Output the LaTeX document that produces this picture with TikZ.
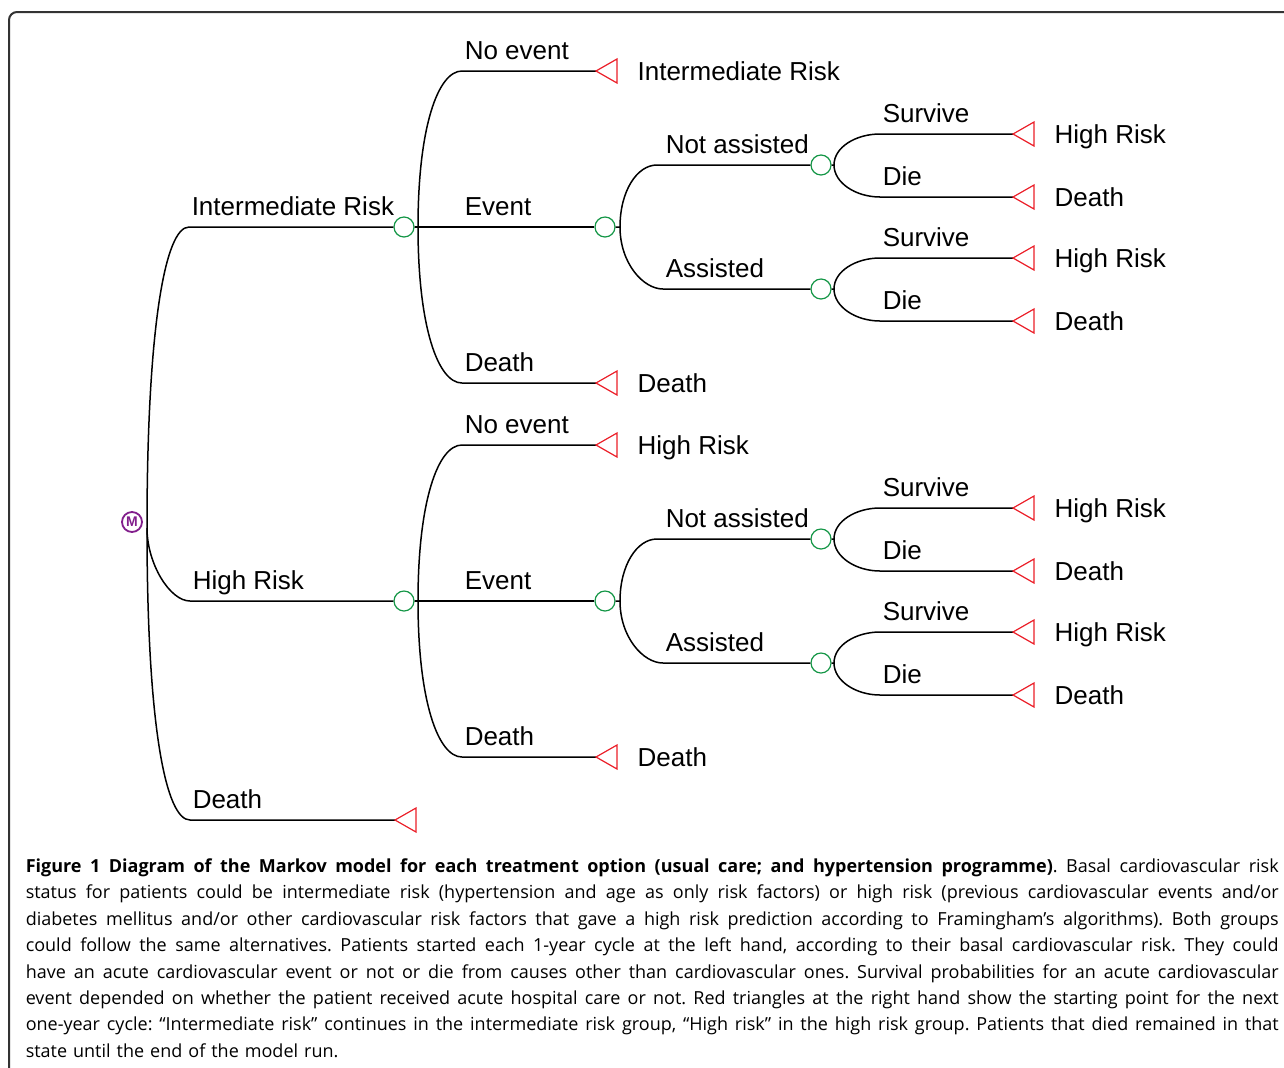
\documentclass[tikz,border=0pt]{standalone}
\usepackage{fontspec}
\setmainfont{Open Sans}
\newfontfamily\treefont{Liberation Sans}
\usepackage{tikz}
\definecolor{chgreen}{RGB}{20,150,70}
\definecolor{trired}{RGB}{235,30,40}
\definecolor{mkpurple}{RGB}{130,30,140}
\newcommand\capline[1]{\leavevmode\hbox to 626.5pt{\spaceskip=0.26em plus 0.5em minus 0.05em #1}\\}
\frenchspacing

\begin{document}
\begin{tikzpicture}[x=0.5pt,y=0.5pt,line width=0.75pt,
  chance/.style={circle,draw=chgreen,line width=0.6pt,minimum size=10pt,inner sep=0pt},
  markov/.style={circle,draw=mkpurple,text=mkpurple,line width=0.9pt,minimum size=10pt,inner sep=0pt,font=\treefont\fontsize{7}{7}\selectfont\bfseries},
  tri/.style={draw=trired,line width=0.6pt},
  lbl/.style={anchor=base west,inner sep=0pt,font=\treefont\fontsize{13}{15}\selectfont},
  brl/.style={lbl,pos=0,xshift=1pt,yshift=6pt},
  trl/.style={lbl,xshift=10pt,yshift=-4.5pt},
  up/.style 2 args={out=90,in=180,out distance=#1,in distance=#2},
  dn/.style 2 args={out=-90,in=180,out distance=#1,in distance=#2}]
\useasboundingbox (0,0) rectangle (1284,-1067);
\draw[line width=1pt,black!80,rounded corners=4pt] (9,-12) rectangle (1320,-1100);

\foreach \dy/\nm/\ne in {0/a/Intermediate Risk,-374/b/High Risk}{
\begin{scope}[shift={(0,\dy)}]
\node[chance] (\nm) at (404,-227) {};
\coordinate (\nm-j) at (418,-227);
\coordinate (\nm-ne0) at (462,-71);
\coordinate (\nm-ne) at (596,-71);
\coordinate (\nm-d0) at (462,-383);
\coordinate (\nm-d) at (596,-383);
\node[chance] (\nm-ev) at (605,-227) {};
\coordinate (\nm-evj) at (620,-227);
\node[chance] (\nm-na) at (821,-165) {};
\node[chance] (\nm-as) at (821,-289) {};
\coordinate (\nm-na0) at (657,-165);
\coordinate (\nm-as0) at (663,-289);
\draw (\nm.east) -- (\nm-j) to[up={50pt}{12pt}] (\nm-ne0) -- node[brl]{No event} (\nm-ne);
\draw (\nm-j) to[dn={50pt}{12pt}] (\nm-d0) -- node[brl]{Death} (\nm-d);
\draw (\nm.east) -- (\nm-ev);
\node[lbl] (\nm-evl) at (464,-215) {Event};
\draw[tri] (\nm-ne) -- ++(21,12) -- ++(0,-12) node[trl] (\nm-nel) {\ne} -- ++(0,-12) -- cycle;
\draw[tri] (\nm-d) -- ++(21,12) -- ++(0,-12) node[trl] (\nm-dl) {Death} -- ++(0,-12) -- cycle;
\draw (\nm-ev.east) -- (\nm-evj) to[up={18pt}{10pt}] (\nm-na0) -- node[brl,xshift=3pt]{Not assisted} (\nm-na);
\draw (\nm-evj) to[dn={18pt}{10pt}] (\nm-as0) -- node[brl]{Assisted} (\nm-as);
\foreach \s/\y in {na/165,as/289}{
  \coordinate (\nm-\s-j) at (834,-\y);
  \coordinate (\nm-\s-sv) at (880,-\y+31);
  \coordinate (\nm-\s-sve) at (1013,-\y+31);
  \coordinate (\nm-\s-di) at (880,-\y-32);
  \coordinate (\nm-\s-die) at (1013,-\y-32);
  \draw (\nm-\s.east) -- (\nm-\s-j) to[up={9pt}{12pt}] (\nm-\s-sv) -- node[brl]{Survive} (\nm-\s-sve);
  \draw (\nm-\s-j) to[dn={9pt}{12pt}] (\nm-\s-di) -- node[brl]{Die} (\nm-\s-die);
  \draw[tri] (\nm-\s-sve) -- ++(21,12) -- ++(0,-12) node[trl] (\nm-\s-svl) {High Risk} -- ++(0,-12) -- cycle;
  \draw[tri] (\nm-\s-die) -- ++(21,12) -- ++(0,-12) node[trl] (\nm-\s-dil) {Death} -- ++(0,-12) -- cycle;
}
\end{scope}
}

\node[markov] (mk) at (132,-522) {M};
\coordinate (r) at (147,-528);
\coordinate (ir0) at (189,-227);
\coordinate (hr0) at (190,-601);
\coordinate (dt0) at (190,-820);
\coordinate (dt) at (395,-820);
\draw (r) to[up={100pt}{12pt}] (ir0) -- node[brl]{Intermediate Risk} (a.west);
\draw (r) to[dn={18pt}{10pt}] (hr0) -- node[brl]{High Risk} (b.west);
\draw (r) to[dn={100pt}{12pt}] (dt0) -- node[brl]{Death} (dt);
\draw[tri] (dt) -- ++(21,12) -- ++(0,-24) -- cycle;

\node[anchor=north west,inner sep=0pt,text width=626.5pt,align=left,font=\fontsize{9}{13.2}\selectfont] (cap) at (25,-858) {%
\capline{\textbf{Figure 1 Diagram of the Markov model for each treatment option (usual care; and hypertension programme)}. Basal cardiovascular risk}
\capline{status for patients could be intermediate risk (hypertension and age as only risk factors) or high risk (previous cardiovascular events and/or}
\capline{diabetes mellitus and/or other cardiovascular risk factors that gave a high risk prediction according to Framingham’s algorithms). Both groups}
\capline{could follow the same alternatives. Patients started each 1-year cycle at the left hand, according to their basal cardiovascular risk. They could}
\capline{have an acute cardiovascular event or not or die from causes other than cardiovascular ones. Survival probabilities for an acute cardiovascular}
\capline{event depended on whether the patient received acute hospital care or not. Red triangles at the right hand show the starting point for the next}
\capline{one-year cycle: “Intermediate risk” continues in the intermediate risk group, “High risk” in the high risk group. Patients that died remained in that}
state until the end of the model run.};
\end{tikzpicture}
\end{document}
